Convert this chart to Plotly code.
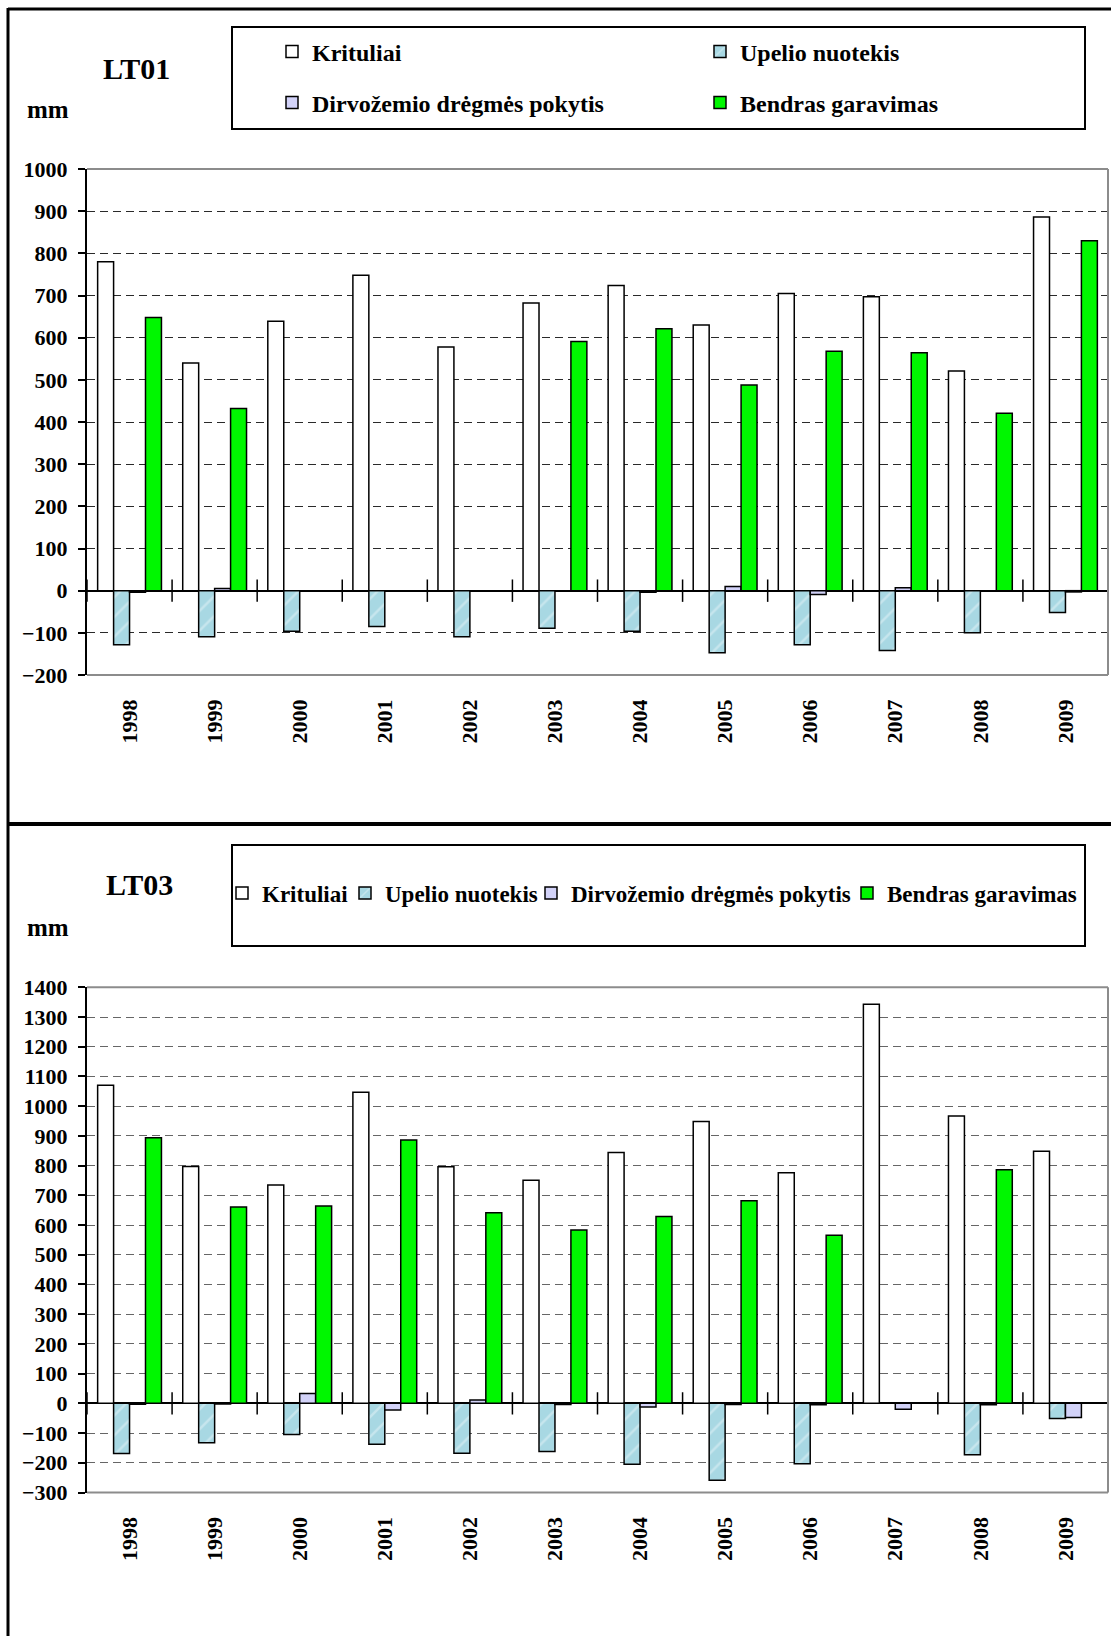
import plotly.graph_objects as go

# Water balance components (mm) for two monitoring sites
years = [str(y) for y in range(1998, 2010)]
series_names = ["Krituliai", "Upelio nuotekis", "Dirvožemio drėgmės pokytis", "Bendras garavimas"]

lt01_krituliai = [780, 540, 639, 748, 578, 682, 724, 630, 705, 697, 521, 886]
lt01_upelio = [-128, -109, -96, -85, -109, -89, -96, -147, -128, -142, -100, -52]
lt01_dirv = [-4, 5, None, None, None, None, -4, 10, -9, 7, None, -3]
lt01_bendras = [648, 432, None, None, None, 591, 621, 488, 568, 564, 421, 830]

lt03_krituliai = [1070, 797, 735, 1047, 796, 751, 844, 948, 776, 1343, 967, 848]
lt03_upelio = [-169, -133, -105, -138, -168, -162, -205, -259, -203, None, -173, -51]
lt03_dirv = [-3, -2, 33, -22, 11, -4, -12, -4, -5, -20, -5, -48]
lt03_bendras = [894, 661, 664, 886, 641, 583, 629, 682, 566, None, 786, None]

lt01_range = [-200, 1000]
lt03_range = [-300, 1400]

W, H = 1111, 1636


def fx(p):
    return p / W


def fy(p):
    return 1 - p / H


FONT = "Liberation Serif, Times New Roman, serif"
idx = list(range(len(years)))

fills = [
    dict(color="white"),
    dict(color="#a8d8e3", pattern=dict(shape="/", fillmode="overlay", fgcolor="white",
                                       fgopacity=0.35, size=14, solidity=0.18)),
    dict(color="#d2d2f8"),
    dict(color="#00f700"),
]

fig = go.Figure()


def add_site(values, xa, ya, legends):
    for name, vals, fill, lg in zip(series_names, values, fills, legends):
        marker = dict(line=dict(color="black", width=1.5), **fill)
        fig.add_trace(go.Bar(
            x=idx, y=vals, name=name, marker=marker, xaxis=xa, yaxis=ya, legend=lg,
        ))
    # category separator ticks along the zero line
    bounds = [i - 0.5 for i in range(len(years) + 1)]
    fig.add_trace(go.Scatter(
        x=bounds, y=[0] * len(bounds), mode="markers", xaxis=xa, yaxis=ya,
        marker=dict(symbol="line-ns-open", size=16, color="black",
                    line=dict(color="black", width=1.5)),
        showlegend=False, hoverinfo="skip",
    ))


add_site([lt01_krituliai, lt01_upelio, lt01_dirv, lt01_bendras], "x", "y",
         ["legend", "legend2", "legend3", "legend4"])
add_site([lt03_krituliai, lt03_upelio, lt03_dirv, lt03_bendras], "x2", "y2",
         ["legend5", "legend6", "legend7", "legend8"])

tickfont = dict(family=FONT, size=22, color="black", weight="bold")

xcommon = dict(
    domain=[fx(87), fx(1108)], range=[-0.5, len(years) - 0.5],
    tickmode="array", tickvals=idx, ticktext=years, tickangle=-90,
    ticks="", ticklabelstandoff=19, showgrid=False, zeroline=False, showline=False,
    tickfont=tickfont, fixedrange=True, automargin=False,
)


def ycommon(rng, dom, gridcolor):
    return dict(
        domain=dom, range=rng, dtick=100, tick0=0, tickmode="linear",
        showline=True, linecolor="black", linewidth=2,
        ticks="outside", ticklen=7, tickwidth=2, tickcolor="black",
        ticklabelstandoff=6,
        showgrid=True, gridcolor=gridcolor, gridwidth=1, griddash="8px,5px",
        zeroline=True, zerolinecolor="black", zerolinewidth=2,
        tickfont=tickfont, fixedrange=True, automargin=False,
    )


def legend_at(x, y, size):
    return dict(x=fx(x), y=fy(y), xanchor="left", yanchor="middle", orientation="h",
                bgcolor="rgba(0,0,0,0)", borderwidth=0,
                font=dict(family=FONT, size=size, color="black", weight="bold"),
                itemwidth=30, itemclick=False, itemdoubleclick=False)


# one legend per entry so each label sits at its own place inside the boxes
legends = dict(
    legend=legend_at(272, 52, 24),
    legend2=legend_at(700, 52, 24),
    legend3=legend_at(272, 103, 24),
    legend4=legend_at(700, 103, 24),
    legend5=legend_at(222, 893, 23),
    legend6=legend_at(345, 893, 23),
    legend7=legend_at(531, 893, 23),
    legend8=legend_at(847, 893, 23),
)

shapes = []
# outer frame and divider
shapes.append(dict(type="line", xref="paper", yref="paper", x0=fx(8), x1=fx(8), y0=fy(8), y1=0,
                   line=dict(color="black", width=3)))
shapes.append(dict(type="line", xref="paper", yref="paper", x0=fx(8), x1=1, y0=fy(9), y1=fy(9),
                   line=dict(color="black", width=3)))
shapes.append(dict(type="line", xref="paper", yref="paper", x0=fx(8), x1=1, y0=fy(824), y1=fy(824),
                   line=dict(color="black", width=4)))
# legend boxes
for top, bot in [(27, 129), (845, 946)]:
    shapes.append(dict(type="rect", xref="paper", yref="paper", x0=fx(232), x1=fx(1085),
                       y0=fy(bot), y1=fy(top), line=dict(color="black", width=2)))
# plot area borders (top, right, bottom)
for xa, ya in [("x", "y"), ("x2", "y2")]:
    for (x0, y0, x1, y1) in [(0, 1, 1, 1), (1, 0, 1, 1), (0, 0, 1, 0)]:
        shapes.append(dict(type="line", xref=f"{xa} domain", yref=f"{ya} domain",
                           x0=x0, y0=y0, x1=x1, y1=y1, layer="above",
                           line=dict(color="#8c8c8c", width=2)))

annotations = [
    dict(text="LT01", x=fx(136), y=fy(68), font=dict(family=FONT, size=30, weight="bold")),
    dict(text="mm", x=fx(48), y=fy(110), font=dict(family=FONT, size=25, weight="bold")),
    dict(text="LT03", x=fx(139), y=fy(885), font=dict(family=FONT, size=30, weight="bold")),
    dict(text="mm", x=fx(48), y=fy(927), font=dict(family=FONT, size=25, weight="bold")),
]
for a in annotations:
    a.update(xref="paper", yref="paper", showarrow=False, xanchor="center", yanchor="middle")
    a["font"]["color"] = "black"

fig.update_layout(
    width=W, height=H, margin=dict(l=0, r=0, t=0, b=0, autoexpand=False),
    paper_bgcolor="white", plot_bgcolor="white",
    barmode="group", bargap=0.25, bargroupgap=0,
    hovermode=False, showlegend=True,
    xaxis=dict(anchor="y", **xcommon),
    xaxis2=dict(anchor="y2", **xcommon),
    yaxis=dict(anchor="x", **ycommon(lt01_range, [fy(675), fy(169)], "#2a2a2a")),
    yaxis2=dict(anchor="x2", **ycommon(lt03_range, [fy(1492.5), fy(987.3)], "#666666")),
    shapes=shapes,
    annotations=annotations,
    **legends,
)

fig.write_html("out.html")
